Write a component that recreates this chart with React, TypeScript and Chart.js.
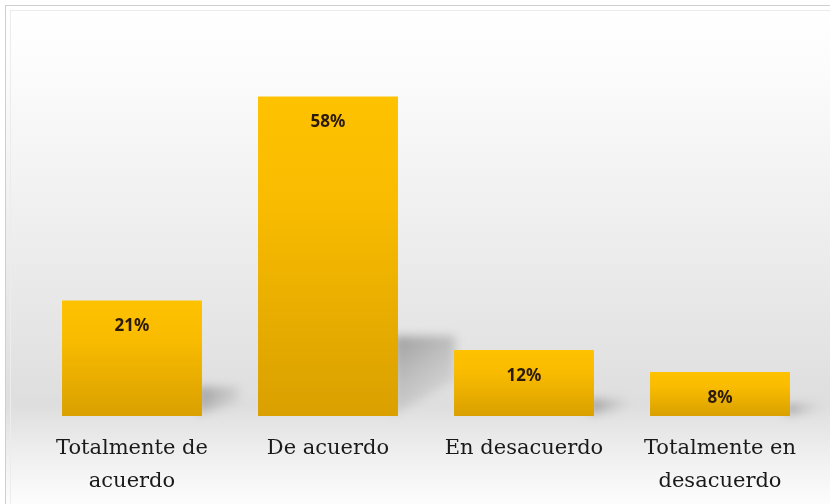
import React, { useEffect, useRef } from "react";
import { Chart, registerables } from "chart.js";

Chart.register(...registerables);

const categories: string[][] = [
  ["Totalmente de", "acuerdo"],
  ["De acuerdo"],
  ["En desacuerdo"],
  ["Totalmente en", "desacuerdo"],
];
const values: number[] = [21, 58, 12, 8];
const valueLabels: string[] = ["21%", "58%", "12%", "8%"];

const bgPlugin = {
  id: "bgPlugin",
  beforeDraw(chart: any) {
    const { ctx, width, height } = chart;
    ctx.save();
    ctx.fillStyle = "#ffffff";
    ctx.fillRect(0, 0, width, height);
    const g = ctx.createLinearGradient(0, 8, 0, height);
    g.addColorStop(0, "#ffffff");
    g.addColorStop(0.12, "#fcfcfc");
    g.addColorStop(0.45, "#eeeeee");
    g.addColorStop(0.8, "#dedede");
    g.addColorStop(0.9, "#efefef");
    g.addColorStop(1, "#fdfdfd");
    ctx.fillStyle = g;
    ctx.fillRect(6, 6, width - 6, height - 6);
    ctx.strokeStyle = "#cfcfcf";
    ctx.lineWidth = 1;
    ctx.strokeRect(5.5, 5.5, width, height);
    ctx.strokeStyle = "#ececec";
    ctx.strokeRect(10.5, 10.5, width, height);
    ctx.restore();
  },
};

const shadowPlugin = {
  id: "shadowPlugin",
  beforeDatasetsDraw(chart: any) {
    const { ctx } = chart;
    const meta = chart.getDatasetMeta(0);
    ctx.save();
    ctx.filter = "blur(5px)";
    meta.data.forEach((bar: any) => {
      const right = bar.x + bar.width / 2;
      const bottom = bar.base;
      const h = bottom - bar.y;
      const a = h * 0.25;
      const w = 25 + h * 0.1;
      const g = ctx.createLinearGradient(right, bottom - a, right + w, bottom);
      g.addColorStop(0, "rgba(90,90,90,0.5)");
      g.addColorStop(1, "rgba(140,140,140,0.0)");
      ctx.fillStyle = g;
      ctx.beginPath();
      ctx.moveTo(right - 4, bottom - 2);
      ctx.lineTo(right - 4, bottom - a);
      ctx.lineTo(right + w, bottom - a);
      ctx.lineTo(right + w, bottom - a * 0.45);
      ctx.closePath();
      ctx.fill();
    });
    ctx.restore();
  },
};

const labelPlugin = {
  id: "labelPlugin",
  afterDatasetsDraw(chart: any) {
    const { ctx } = chart;
    const meta = chart.getDatasetMeta(0);
    ctx.save();
    ctx.font = "bold 17px 'Noto Sans'";
    ctx.fillStyle = "#2b1a08";
    ctx.textAlign = "center";
    ctx.textBaseline = "middle";
    meta.data.forEach((bar: any, i: number) => {
      ctx.fillText(valueLabels[i], bar.x, bar.y + 26);
    });
    ctx.restore();
  },
};

export default function App() {
  const ref = useRef<HTMLCanvasElement | null>(null);
  useEffect(() => {
    document.body.style.margin = "0";
    const canvas = ref.current!;
    const chart = new Chart(canvas, {
      type: "bar",
      data: {
        labels: categories,
        datasets: [
          {
            data: values,
            backgroundColor: (c: any) => {
              const ch = c.chart;
              const area = ch.chartArea;
              if (!area) return "#f2b400";
              const y = ch.scales.y;
              const top = y.getPixelForValue(values[c.dataIndex] ?? 0);
              const bottom = y.getPixelForValue(0);
              const g = ch.ctx.createLinearGradient(0, top, 0, bottom);
              g.addColorStop(0, "#ffc200");
              g.addColorStop(0.35, "#f8bb00");
              g.addColorStop(1, "#d9a000");
              return g;
            },
            borderWidth: 0,
            categoryPercentage: 1,
            barPercentage: 0.714,
          },
        ],
      },
      options: {
        animation: false,
        responsive: false,
        maintainAspectRatio: false,
        layout: { padding: { left: 34, right: 12, top: 25, bottom: -10 } },
        plugins: {
          legend: { display: false },
          tooltip: { enabled: false },
        },
        scales: {
          y: { display: false, min: 0, max: 71 },
          x: {
            grid: { display: false, drawTicks: false },
            border: { display: false },
            ticks: {
              color: "#1a1a1a",
              font: { family: "'DejaVu Serif'", size: 21, lineHeight: 1.57 },
              padding: 16,
              maxRotation: 0,
              autoSkip: false,
            },
          },
        },
      },
      plugins: [bgPlugin, shadowPlugin, labelPlugin],
    });
    return () => chart.destroy();
  }, []);
  return (
    <div style={{ position: "absolute", left: 0, top: 0, width: 830, height: 504 }}>
      <canvas ref={ref} width={830} height={504} style={{ width: 830, height: 504 }} />
    </div>
  );
}
